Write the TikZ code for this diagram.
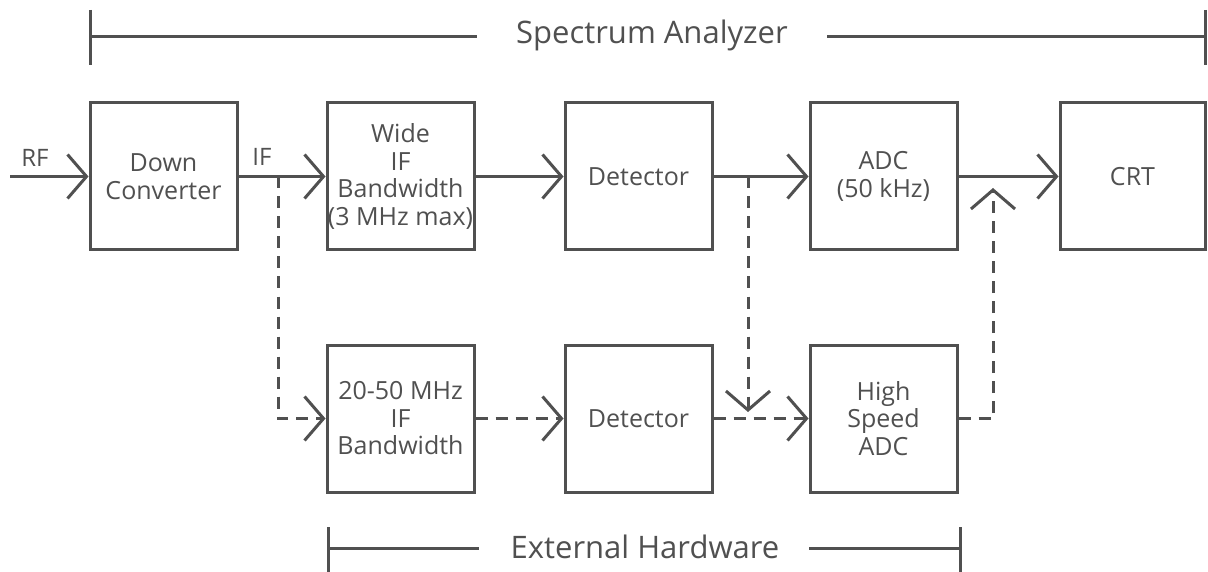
\documentclass[tikz,border=0pt]{standalone}
\usepackage{fontspec}
\setmainfont{Open Sans}
\usetikzlibrary{arrows.meta}
\definecolor{ink}{HTML}{505050}
\begin{document}
\begin{tikzpicture}[x=1pt,y=-1pt,
  box/.style={draw=ink, line width=3pt, minimum width=147pt, minimum height=147pt,
    align=center, font=\fontsize{25}{27.5}\selectfont, text=ink, inner sep=0pt},
  conn/.style={draw=ink, line width=3pt},
  dsh/.style={dash pattern=on 12pt off 8pt},
  chev/.style={-{Straight Barb[length=19pt,width=44pt]}},
  lbl/.style={text=ink, font=\fontsize{24}{27}\selectfont, inner sep=0pt},
  title/.style={text=ink, font=\fontsize{31}{34}\selectfont, inner sep=0pt}]
\useasboundingbox[fill=white] (0,0) rectangle (1208,572);

% boxes
\node[box] (dc)  at (163.5,176.5) {Down\\Converter};
\node[box] (wif) at (400.5,176.5) {Wide\\IF\\Bandwidth\\(3 MHz max)};
\node[box] (det1) at (638.5,176.5) {Detector};
\node[box] (adc) at (883.5,176.5) {ADC\\(50 kHz)};
\node[box, minimum width=145pt] (crt) at (1132.5,176.5) {CRT};
\node[box] (bw)  at (400.5,418.5) {20-50 MHz\\IF\\Bandwidth};
\node[box] (det2) at (638.5,418.5) {Detector};
\node[box] (hadc) at (883.5,418.5) {High\\Speed\\ADC};

% labels
\node[lbl] (rf) at (35,158) {RF};
\node[lbl] (if) at (262,157) {IF};

% solid main path
\coordinate (in) at (10,176.5);
\draw[conn,chev] (in) -- (dc.west);
\draw[conn,chev] (dc.east) -- (wif.west);
\draw[conn,chev] (wif.east) -- (det1.west);
\draw[conn,chev] (det1.east) -- (adc.west);
\draw[conn,chev] (adc.east) -- (crt.west);

% dashed paths
\coordinate (b1) at (278,176.5);
\draw[conn,dsh,chev] (b1) |- (bw.west);
\draw[conn,dsh,chev] (bw.east) -- (det2.west);
\draw[conn,dsh,chev] (det2.east) -- (hadc.west);
\coordinate (b2) at (748,176.5);
\coordinate (b2e) at (748,412);
\draw[conn,dsh,chev] (b2) -- (b2e);
\coordinate (c1) at (993,418.5);
\coordinate (c2) at (993,188);
\draw[conn,dsh,chev] (hadc.east) -- (c1) -- (c2);

% spectrum analyzer bracket
\node[title] (sa) at (652,35) {Spectrum Analyzer};
\coordinate (sa1) at (90,37);
\coordinate (sa2) at (1205,37);
\draw[conn] (90,10) -- (90,65);
\draw[conn] (1205,10) -- (1205,65);
\draw[conn] (sa1) -- (477,37);
\draw[conn] (827,37) -- (sa2);

% external hardware bracket
\node[title] (eh) at (645,547) {External Hardware};
\draw[conn] (328,527) -- (328,572);
\draw[conn] (960,527) -- (960,572);
\draw[conn] (328,548) -- (479,548);
\draw[conn] (809,548) -- (960,548);
\end{tikzpicture}
\end{document}
